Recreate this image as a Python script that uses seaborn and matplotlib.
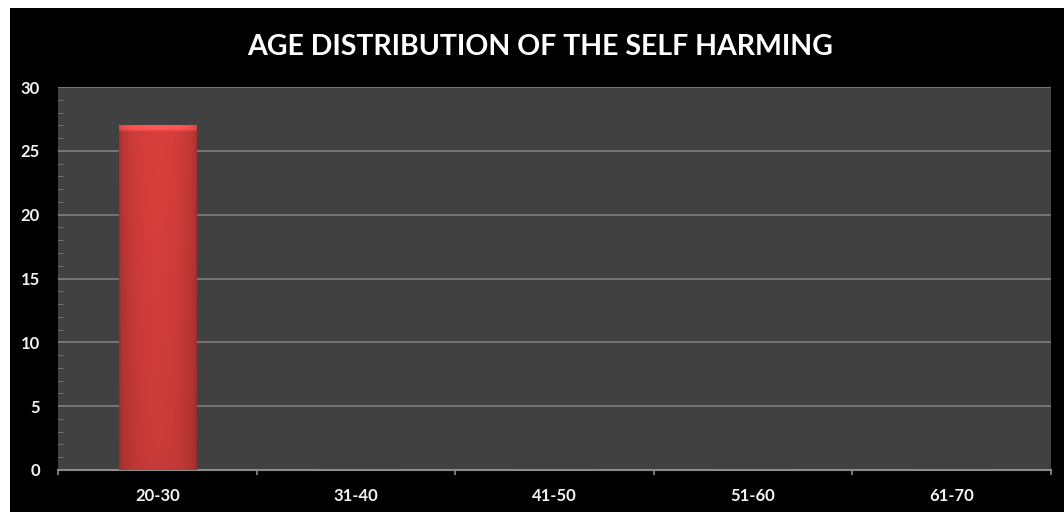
import numpy as np
import pandas as pd
import matplotlib
matplotlib.use("Agg")
import matplotlib.pyplot as plt
from matplotlib.patches import Rectangle
from matplotlib.ticker import MultipleLocator, FixedLocator
import seaborn as sns

age_groups = ["20-30", "31-40", "41-50", "51-60", "61-70"]
counts = [27, 0, 0, 0, 0]
title_text = "AGE DISTRIBUTION OF THE SELF HARMING"

df = pd.DataFrame({"age": age_groups, "count": counts})

sns.set_style("dark")
plt.rcParams["font.family"] = ["Lato", "DejaVu Sans"]

W, H, DPI = 1064, 512, 100
fig = plt.figure(figsize=(W / DPI, H / DPI), dpi=DPI, facecolor="white")

# black slide panel behind the chart
fig.patches.append(Rectangle((10 / W, 0), 1 - 10 / W, 1 - 8 / H,
                             transform=fig.transFigure, facecolor="black",
                             edgecolor="none", zorder=-5))

ax = fig.add_axes([58 / W, (H - 470) / H, (1051 - 58) / W, (470 - 87) / H])
ax.set_zorder(2)
ax.set_facecolor("#414141")

sns.barplot(data=df, x="age", y="count", color="#d23f3c", width=0.39,
            saturation=1, ax=ax, zorder=3, edgecolor="#a82c2a", linewidth=0.8)

# shade the bars with a horizontal gradient and a soft bevel on top
for patch in list(ax.patches):
    x0, y0 = patch.get_x(), patch.get_y()
    w, h = patch.get_width(), patch.get_height()
    if h <= 0:
        continue
    xs = np.linspace(0, 1, 64)
    shade = 0.80 + 0.24 * np.sin(np.pi * xs) ** 0.5
    ys = np.linspace(1, 0, 128)
    vshade = 0.92 + 0.08 * ys
    base = np.array([0.82, 0.24, 0.23])
    img = base[None, None, :] * shade[None, :, None] * vshade[:, None, None]
    # lighter bevel band along the top edge
    band = ys > 1 - 0.35 / h
    img[band] = img[band] * 1.18 + 0.05
    img = np.clip(img, 0, 1)
    im = ax.imshow(img, extent=(x0, x0 + w, y0, y0 + h), aspect="auto",
                   zorder=3.5, interpolation="bilinear")
    im.set_clip_path(patch)

ax.set_xlim(-0.5, len(age_groups) - 0.5)
ax.set_ylim(0, 30)
ax.yaxis.set_major_locator(MultipleLocator(5))
ax.yaxis.set_minor_locator(MultipleLocator(1))
ax.grid(axis="y", which="major", color="#858585", linewidth=1.1, zorder=1)
ax.grid(axis="x", visible=False)
ax.set_axisbelow(True)

# category boundary ticks on the x axis
ax.xaxis.set_minor_locator(FixedLocator(np.arange(-0.5, len(age_groups), 1.0)))
ax.tick_params(axis="x", which="major", length=0, pad=13,
               labelcolor="#f2f2f2", labelsize=12)
ax.tick_params(axis="x", which="minor", length=3.8, width=1.2,
               color="#8c8c8c", direction="out", bottom=True)
ax.tick_params(axis="y", which="major", length=0, pad=13,
               labelcolor="#f2f2f2", labelsize=12)
ax.tick_params(axis="y", which="minor", length=3.6, width=0.8,
               color="#707070", direction="in", left=True)
for lbl in ax.get_xticklabels() + ax.get_yticklabels():
    lbl.set_fontweight("bold")

ax.set_xlabel("")
ax.set_ylabel("")
for side in ["top", "right", "left"]:
    ax.spines[side].set_visible(False)
ax.spines["bottom"].set_color("#8c8c8c")
ax.spines["bottom"].set_linewidth(1.5)

fig.text(540 / W, 1 - 47 / H, title_text, color="white",
         fontsize=20.5, fontweight="bold", ha="center", va="center")

fig.savefig("out.png", dpi=DPI, facecolor="white")
